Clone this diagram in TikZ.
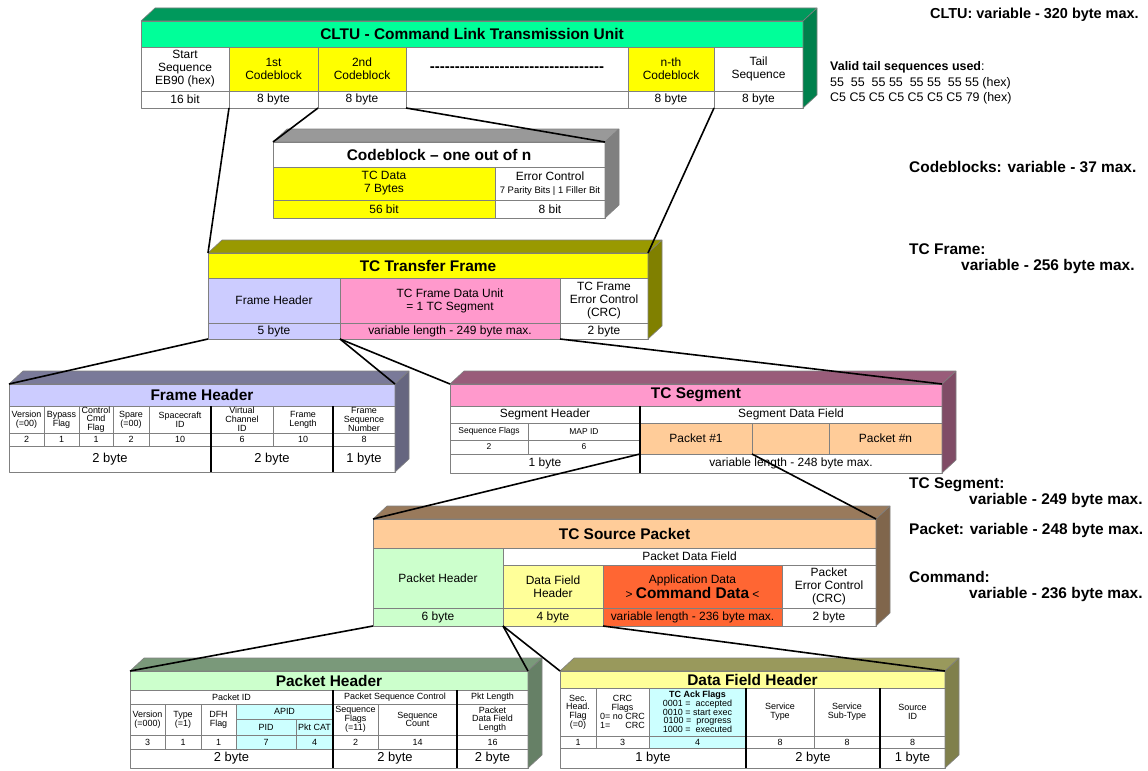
\documentclass[tikz,border=0pt]{standalone}
\usepackage{fontspec}
\setmainfont{Liberation Sans}
\definecolor{cltuband}{HTML}{00FF99}
\definecolor{yel}{HTML}{FFFF00}
\definecolor{lav}{HTML}{CCCCFF}
\definecolor{rose}{HTML}{FF99CC}
\definecolor{tan}{HTML}{FFCC99}
\definecolor{mint}{HTML}{CCFFCC}
\definecolor{paleyel}{HTML}{FFFF99}
\definecolor{appred}{HTML}{FF6633}
\definecolor{cyanish}{HTML}{CCFFFF}
% one table cell: name, x1, y1, x2, y2, fill, text
\newcommand\cell[8][]{%
  \pgfmathsetmacro\cw{#5-#3}\pgfmathsetmacro\ch{#6-#4}%
  \node (#2) [cell,#1,fill=#7,minimum width=\cw bp,minimum height=\ch bp] at (#3,#4) {#8};}
% top and side face of a box: title node, bottom right node, colour
\newcommand\slab[3]{%
  \filldraw[face,fill=#3!60!black] (#1.north west) -- ([shift={(14,-13)}]#1.north west)
    -- ([shift={(14,-13)}]#1.north east) -- (#1.north east) -- cycle;
  \filldraw[face,fill=#3!50!black] (#1.north east) -- ([shift={(14,-13)}]#1.north east)
    -- ([shift={(14,-13)}]#2.south east) -- (#2.south east) -- cycle;}
\newcommand\dashline{\foreach\k in {1,...,35}{-{}}}
\begin{document}
\begin{tikzpicture}[x=1bp,y=-1bp,line join=bevel,
  cell/.style={draw=gray,line width=0.6bp,inner sep=0pt,outer sep=0pt,anchor=north west,
    align=center,font=\fontsize{12}{13}\selectfont},
  title/.style={font=\fontsize{15.5}{17}\selectfont\bfseries},
  small/.style={font=\fontsize{9}{8.8}\selectfont},
  tiny/.style={font=\fontsize{8.5}{9}\selectfont},
  big/.style={font=\fontsize{13}{14}\selectfont},
  face/.style={draw=gray,line width=0.6bp},
  sep/.style={line width=1.8bp},
  conn/.style={line width=1.6bp},
  note/.style={anchor=base west,inner sep=0pt,align=left,font=\fontsize{15.5}{16}\selectfont\bfseries}]
\useasboundingbox (0,0) rectangle (1148,771);
%% CLTU
\cell[title]{cltu}{141}{21}{803}{47}{cltuband}{CLTU - Command Link Transmission Unit}
\cell{sync}{141}{47}{229}{91}{white}{Start\\Sequence\\EB90 (hex)}
\cell{cb1}{229}{47}{318}{91}{yel}{1st\\Codeblock}
\cell{cb2}{318}{47}{406}{91}{yel}{2nd\\Codeblock}
\cell[font=\fontsize{15}{15}\selectfont\bfseries]{cbdots}{406}{47}{628}{91}{white}{\dashline}
\cell{cbn}{628}{47}{714}{91}{yel}{n-th\\Codeblock}
\cell{tail}{714}{47}{803}{91}{white}{Tail\\Sequence}
\cell{syncb}{141}{91}{229}{108}{white}{16 bit}
\cell{cb1b}{229}{91}{318}{108}{white}{8 byte}
\cell{cb2b}{318}{91}{406}{108}{white}{8 byte}
\cell{cbdotsb}{406}{91}{628}{108}{white}{}
\cell{cbnb}{628}{91}{714}{108}{white}{8 byte}
\cell{tailb}{714}{91}{803}{108}{white}{8 byte}
\slab{cltu}{tailb}{cltuband}
%% Codeblock
\cell[title]{cbk}{273}{142}{605}{167}{white}{Codeblock -- one out of n}
\cell{tcdata}{273}{167}{495}{200}{yel}{TC Data\\7 Bytes}
\cell{errctl}{495}{167}{605}{200}{white}{Error Control\\{\fontsize{9.5}{10}\selectfont 7 Parity Bits | 1 Filler Bit}}
\cell{tcdatab}{273}{200}{495}{218}{yel}{56 bit}
\cell{errctlb}{495}{200}{605}{218}{white}{8 bit}
\slab{cbk}{errctlb}{white}
%% TC Transfer Frame
\cell[title]{tcf}{208}{253}{648}{278}{yel}{TC Transfer Frame}
\cell{tcfhdr}{208}{278}{340}{323}{lav}{Frame Header}
\cell{tcfdata}{340}{278}{560}{323}{rose}{TC Frame Data Unit\\= 1 TC Segment}
\cell{tcfcrc}{560}{278}{648}{323}{white}{TC Frame\\Error Control\\(CRC)}
\cell{tcfhdrb}{208}{323}{340}{339}{lav}{5 byte}
\cell{tcfdatab}{340}{323}{560}{339}{rose}{variable length - 249 byte max.}
\cell{tcfcrcb}{560}{323}{648}{339}{white}{2 byte}
\slab{tcf}{tcfcrcb}{yel}
%% Frame Header
\cell[title]{fh}{9}{384}{395}{406}{lav}{Frame Header}
\cell[small]{fhver}{9}{406}{44}{433}{white}{Version\\(=00)}
\cell[small]{fhbyp}{44}{406}{79}{433}{white}{Bypass\\Flag}
\cell[small]{fhctl}{79}{406}{113}{433}{white}{Control\\Cmd\\Flag}
\cell[small]{fhspare}{113}{406}{149}{433}{white}{Spare\\(=00)}
\cell[small]{fhscid}{149}{406}{211}{433}{white}{Spacecraft\\ID}
\cell[small]{fhvcid}{211}{406}{273}{433}{white}{Virtual\\Channel\\ID}
\cell[small]{fhlen}{273}{406}{333}{433}{white}{Frame\\Length}
\cell[small]{fhseq}{333}{406}{395}{433}{white}{Frame\\Sequence\\Number}
\cell[small]{fhvern}{9}{433}{44}{446}{white}{2}
\cell[small]{fhbypn}{44}{433}{79}{446}{white}{1}
\cell[small]{fhctln}{79}{433}{113}{446}{white}{1}
\cell[small]{fhsparen}{113}{433}{149}{446}{white}{2}
\cell[small]{fhscidn}{149}{433}{211}{446}{white}{10}
\cell[small]{fhvcidn}{211}{433}{273}{446}{white}{6}
\cell[small]{fhlenn}{273}{433}{333}{446}{white}{10}
\cell[small]{fhseqn}{333}{433}{395}{446}{white}{8}
\cell[big]{fhb1}{9}{446}{211}{472}{white}{2 byte}
\cell[big]{fhb2}{211}{446}{333}{472}{white}{2 byte}
\cell[big]{fhb3}{333}{446}{395}{472}{white}{1 byte}
\draw[sep] (fhvcid.north west) -- (fhb2.south west);
\draw[sep] (fhseq.north west) -- (fhb3.south west);
\slab{fh}{fhb3}{lav}
%% TC Segment
\cell[title]{seg}{450}{384}{942}{406}{rose}{TC Segment}
\cell{seghdr}{450}{406}{640}{423}{white}{Segment Header}
\cell{segdata}{640}{406}{942}{423}{white}{Segment Data Field}
\cell[tiny]{segflags}{450}{423}{528}{440}{white}{Sequence Flags}
\cell[tiny]{segmap}{528}{423}{640}{440}{white}{MAP ID}
\cell[tiny]{segflagsn}{450}{440}{528}{454}{white}{2}
\cell[tiny]{segmapn}{528}{440}{640}{454}{white}{6}
\cell{pk1}{640}{423}{752}{454}{tan}{Packet \#1}
\cell{pkmid}{752}{423}{829}{454}{tan}{}
\cell{pkn}{829}{423}{942}{454}{tan}{Packet \#n}
\cell{seghdrb}{450}{454}{640}{473}{white}{1 byte}
\cell{segdatab}{640}{454}{942}{473}{white}{variable length - 248 byte max.}
\draw[sep] (segdata.north west) -- (segdatab.south west);
\slab{seg}{segdatab}{rose}
%% TC Source Packet
\cell[title]{sp}{373}{519}{876}{548}{tan}{TC Source Packet}
\cell{sphdr}{373}{548}{503}{608}{mint}{Packet Header}
\cell{spdf}{503}{548}{876}{565}{white}{Packet Data Field}
\cell{spdfh}{503}{565}{603}{608}{paleyel}{Data Field\\Header}
\cell{spapp}{603}{565}{782}{608}{appred}{Application Data\\> {\fontsize{15.5}{15}\selectfont\bfseries Command Data} <}
\cell{spcrc}{782}{565}{876}{608}{white}{Packet\\Error Control\\(CRC)}
\cell{sphdrb}{373}{608}{503}{626}{mint}{6 byte}
\cell{spdfhb}{503}{608}{603}{626}{paleyel}{4 byte}
\cell{spappb}{603}{608}{782}{626}{appred}{variable length - 236 byte max.}
\cell{spcrcb}{782}{608}{876}{626}{white}{2 byte}
\slab{sp}{spcrcb}{tan}
%% Packet Header
\cell[title]{ph}{130}{671}{528}{690}{mint}{Packet Header}
\cell[small]{phid}{130}{690}{333}{704}{white}{Packet ID}
\cell[small]{phsc}{333}{690}{457}{704}{white}{Packet Sequence Control}
\cell[small]{phlen}{457}{690}{528}{704}{white}{Pkt Length}
\cell[small]{phver}{130}{704}{165}{735}{white}{Version\\(=000)}
\cell[small]{phtype}{165}{704}{201}{735}{white}{Type\\(=1)}
\cell[small]{phdfh}{201}{704}{236}{735}{white}{DFH\\Flag}
\cell[small]{phapid}{236}{704}{333}{719}{cyanish}{APID}
\cell[small]{phpid}{236}{719}{296}{735}{cyanish}{PID}
\cell[small]{phcat}{296}{719}{333}{735}{cyanish}{Pkt CAT}
\cell[small]{phflags}{333}{704}{378}{735}{white}{Sequence\\Flags\\(=11)}
\cell[small]{phcount}{378}{704}{457}{735}{white}{Sequence\\Count}
\cell[small]{phdfl}{457}{704}{528}{735}{white}{Packet\\Data Field\\Length}
\cell[small]{phvern}{130}{735}{165}{749}{white}{3}
\cell[small]{phtypen}{165}{735}{201}{749}{white}{1}
\cell[small]{phdfhn}{201}{735}{236}{749}{white}{1}
\cell[small]{phpidn}{236}{735}{296}{749}{cyanish}{7}
\cell[small]{phcatn}{296}{735}{333}{749}{cyanish}{4}
\cell[small]{phflagsn}{333}{735}{378}{749}{white}{2}
\cell[small]{phcountn}{378}{735}{457}{749}{white}{14}
\cell[small]{phdfln}{457}{735}{528}{749}{white}{16}
\cell[big]{phb1}{130}{749}{333}{768}{white}{2 byte}
\cell[big]{phb2}{333}{749}{457}{768}{white}{2 byte}
\cell[big]{phb3}{457}{749}{528}{768}{white}{2 byte}
\draw[sep] (phsc.north west) -- (phb2.south west);
\draw[sep] (phlen.north west) -- (phb3.south west);
\slab{ph}{phb3}{mint}
%% Data Field Header
\cell[title]{dfh}{560}{671}{945}{688}{paleyel}{Data Field Header}
\cell[small]{dfhsec}{560}{688}{596}{736}{white}{Sec.\\Head.\\Flag\\(=0)}
\cell[small]{dfhcrc}{596}{688}{649}{736}{white}{CRC\\Flags\\0= no CRC\\1= \hphantom{no} CRC}
\cell[small]{dfhack}{649}{688}{746}{736}{cyanish}{\textbf{TC Ack Flags}\\0001 =\ \ accepted\\0010 = start exec\\0100 =\ \ progress\\1000 =\ \ executed}
\cell[small]{dfhtype}{746}{688}{814}{736}{white}{Service\\Type}
\cell[small]{dfhsub}{814}{688}{880}{736}{white}{Service\\Sub-Type}
\cell[small]{dfhsrc}{880}{688}{945}{736}{white}{Source\\ID}
\cell[small]{dfhsecn}{560}{736}{596}{748}{white}{1}
\cell[small]{dfhcrcn}{596}{736}{649}{748}{white}{3}
\cell[small]{dfhackn}{649}{736}{746}{748}{cyanish}{4}
\cell[small]{dfhtypen}{746}{736}{814}{748}{white}{8}
\cell[small]{dfhsubn}{814}{736}{880}{748}{white}{8}
\cell[small]{dfhsrcn}{880}{736}{945}{748}{white}{8}
\cell[big]{dfhb1}{560}{748}{746}{768}{white}{1 byte}
\cell[big]{dfhb2}{746}{748}{880}{768}{white}{2 byte}
\cell[big]{dfhb3}{880}{748}{945}{768}{white}{1 byte}
\draw[sep] (dfhtype.north west) -- (dfhb2.south west);
\draw[sep] (dfhsrc.north west) -- (dfhb3.south west);
\slab{dfh}{dfhb3}{paleyel}
%% connectors
\draw[conn] (cb2b.south west) -- (cbk.north west);
\draw[conn] (cb2b.south east) -- (cbk.north east);
\draw[conn] (cb1b.south west) -- (tcf.north west);
\draw[conn] (cbnb.south east) -- (tcf.north east);
\draw[conn] (tcfhdrb.south west) -- (fh.north west);
\draw[conn] (tcfhdrb.south east) -- (fh.north east);
\draw[conn] (tcfdatab.south west) -- (seg.north west);
\draw[conn] (tcfdatab.south east) -- (seg.north east);
\draw[conn] (pk1.south west) -- (sp.north west);
\draw[conn] (pk1.south east) -- (sp.north east);
\draw[conn] (sphdrb.south west) -- (ph.north west);
\draw[conn] (sphdrb.south east) -- (ph.north east);
\draw[conn] (spdfhb.south west) -- (dfh.north west);
\draw[conn] (spdfhb.south east) -- (dfh.north east);
%% notes (base = baseline of the last line)
\node (cltumax) [note,font=\fontsize{14.5}{16}\selectfont\bfseries] at (930,19) {CLTU: variable - 320 byte max.};
\node (tailseq) [note,font=\fontsize{12.5}{16}\selectfont] at (830,102) {\textbf{Valid tail sequences used}:\\55\ \ 55\ \ 55 55\ \ 55 55\ \ 55 55 (hex)\\C5 C5 C5 C5 C5 C5 C5 79 (hex)};
\node (cbmax) [note] at (909,172) {Codeblocks: variable - 37 max.};
\node (tcfmax) [note] at (909,270) {TC Frame:\\\hspace*{52bp}variable - 256 byte max.};
\node (segmax) [note] at (909,504) {TC Segment:\\\hspace*{60bp}variable - 249 byte max.};
\node (spmax) [note] at (909,534) {Packet: variable - 248 byte max.};
\node (cmdmax) [note] at (909,598) {Command:\\\hspace*{60bp}variable - 236 byte max.};
\end{tikzpicture}
\end{document}
